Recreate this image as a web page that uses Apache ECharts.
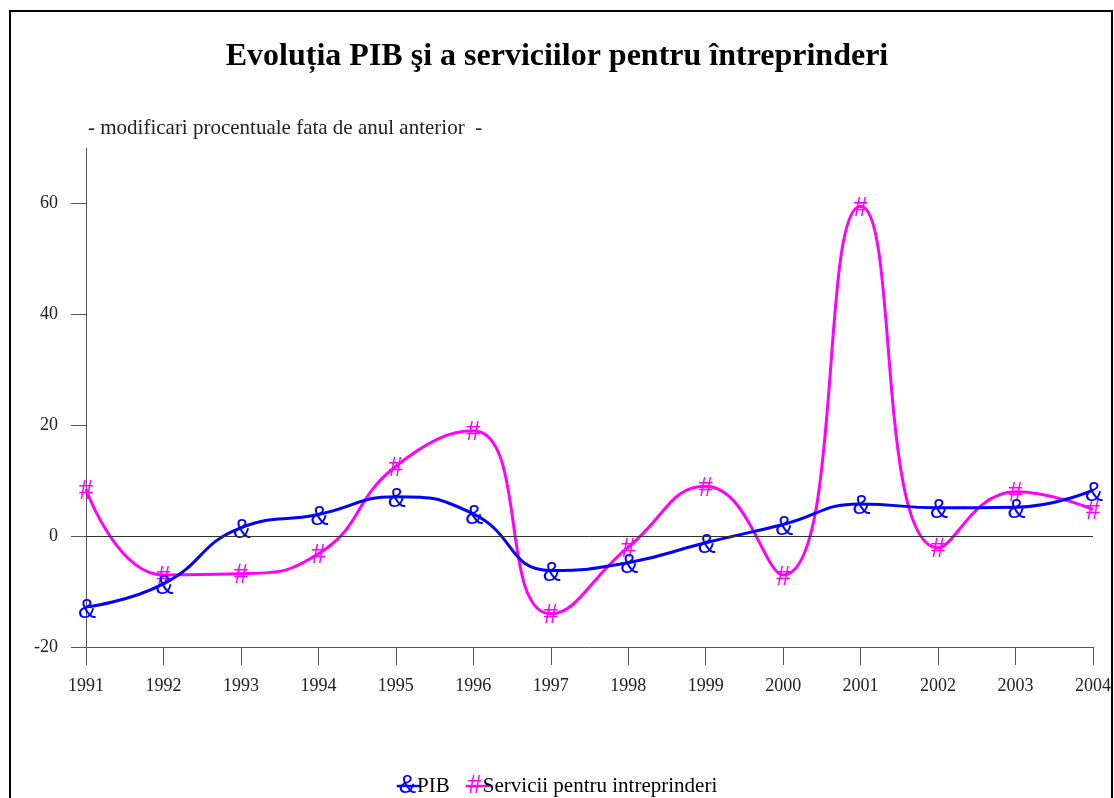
<!DOCTYPE html>
<html>
<head>
<meta charset="utf-8">
<script src="https://cdn.jsdelivr.net/npm/echarts@6/dist/echarts.min.js"></script>
<style>
  html, body { margin: 0; padding: 0; background: #fff; }
  #chart { width: 1114px; height: 798px; }
</style>
</head>
<body>
<div id="chart"></div>
<script>
var years = ['1991', '1992', '1993', '1994', '1995', '1996', '1997', '1998', '1999', '2000', '2001', '2002', '2003', '2004'];
var pib = [-12.8, -8.6, 1.5, 3.9, 7.1, 4.0, -6.2, -4.8, -1.2, 2.1, 5.8, 5.1, 5.2, 8.3];
var servicii = [8.5, -7, -6.8, -3.2, 12.6, 19, -14, -2, 9, -7, 59.5, -2.1, 8, 4.8];
var yTicks = [-20, 0, 20, 40, 60];

var serif = "'Liberation Serif', 'Times New Roman', serif";
var sans = "'Liberation Sans', Arial, sans-serif";

var myChart = echarts.init(document.getElementById('chart'));
myChart.setOption({
    animation: false,
    backgroundColor: '#fff',
    title: [
        {
            text: 'Evoluția PIB şi a serviciilor pentru întreprinderi',
            left: 'center',
            top: 36,
            textStyle: { fontFamily: serif, fontSize: 32, fontWeight: 'bold', color: '#000' }
        },
        {
            text: '- modificari procentuale fata de anul anterior  -',
            left: 83,
            top: 113,
            textStyle: { fontFamily: serif, fontSize: 21, fontWeight: 'normal', color: '#222' }
        }
    ],
    graphic: [
        {
            type: 'rect',
            shape: { x: 10, y: 11, width: 1102, height: 800 },
            style: { fill: null, stroke: '#000', lineWidth: 2 },
            silent: true
        }
    ],
    legend: {
        left: 'center',
        top: 767,
        itemWidth: 24,
        itemHeight: 3,
        itemGap: 16,
        data: [
            { name: 'PIB', icon: 'path://M0,0H10V1H0Z' },
            { name: 'Servicii pentru intreprinderi', icon: 'path://M0,0H10V1H0Z' }
        ],
        formatter: function (name) {
            return name === 'PIB' ? '{a|&}' + name : '{b|#}' + name;
        },
        textStyle: {
            fontFamily: serif,
            fontSize: 21,
            color: '#000',
            padding: [0, 0, 0, -27],
            rich: {
                a: { fontFamily: sans, fontSize: 26, color: '#0000ff', padding: [0, 1, 0, 0] },
                b: { fontFamily: serif, fontSize: 28, color: '#ff00ff', padding: [0, 1, 0, 0] }
            }
        }
    },
    grid: { left: 86, right: 20, top: 148, bottom: 151 },
    xAxis: {
        type: 'category',
        data: years,
        boundaryGap: false,
        axisLine: { onZero: false, lineStyle: { color: '#555', width: 1 } },
        axisTick: { length: 18, lineStyle: { color: '#555' } },
        axisLabel: { margin: 30, fontFamily: serif, fontSize: 18, color: '#222' },
        splitLine: { show: false }
    },
    yAxis: {
        type: 'value',
        min: -20,
        max: 70,
        interval: 20,
        axisLine: { show: true, lineStyle: { color: '#555', width: 1 } },
        axisTick: { show: true, length: 15, customValues: yTicks, lineStyle: { color: '#555' } },
        axisLabel: { margin: 28, customValues: yTicks, fontFamily: serif, fontSize: 18, color: '#222' },
        splitLine: { show: false }
    },
    series: [
        {
            name: 'PIB',
            type: 'line',
            data: pib,
            smooth: 0.5,
            symbol: 'circle',
            symbolSize: 1,
            itemStyle: { color: '#0000ff' },
            lineStyle: { color: '#0000ff', width: 3 },
            label: {
                show: true,
                position: 'inside',
                formatter: '&',
                offset: [1, 3],
                fontFamily: sans,
                fontSize: 27,
                color: '#0000ff'
            },
            markLine: {
                silent: true,
                symbol: 'none',
                label: { show: false },
                lineStyle: { color: '#333', width: 1, type: 'solid' },
                data: [{ yAxis: 0 }]
            },
            z: 3
        },
        {
            name: 'Servicii pentru intreprinderi',
            type: 'line',
            data: servicii,
            smooth: 0.5,
            symbol: 'circle',
            symbolSize: 1,
            itemStyle: { color: '#ff00ff' },
            lineStyle: { color: '#ff00ff', width: 3 },
            label: {
                show: true,
                position: 'inside',
                formatter: '#',
                offset: [0, 2],
                fontFamily: serif,
                fontSize: 29,
                color: '#ff00ff'
            },
            z: 2
        }
    ]
});
</script>
</body>
</html>
